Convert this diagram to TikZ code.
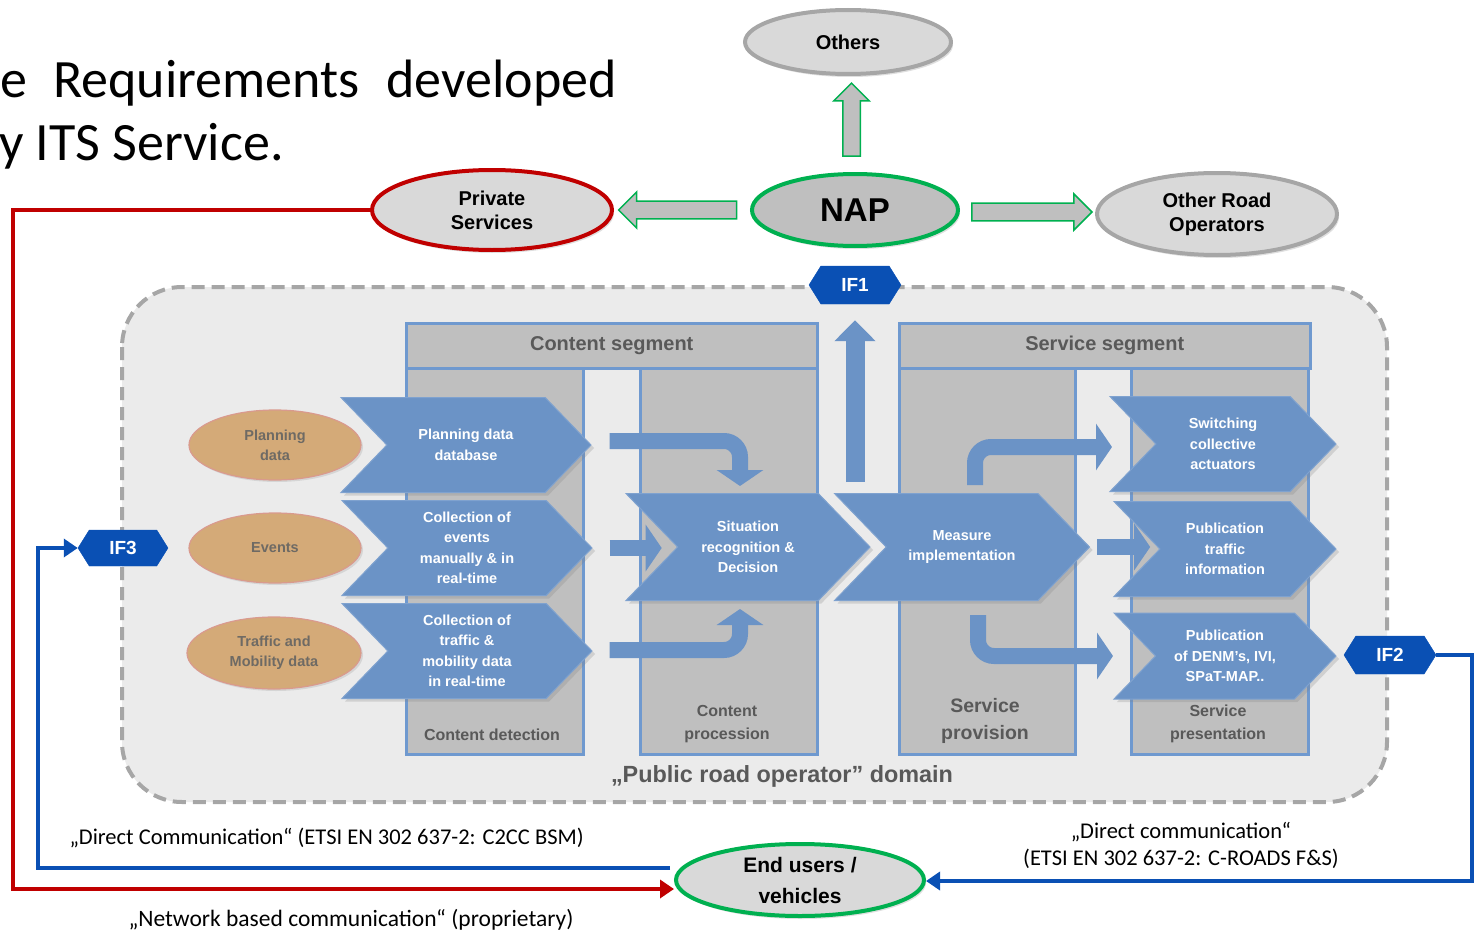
\documentclass[tikz,border=0pt]{standalone}
\usepackage{fontspec}
\setmainfont{Liberation Sans}
\newfontfamily\calibri{Carlito}
\usetikzlibrary{calc, positioning, arrows.meta, shapes.geometric, shapes.symbols, shapes.arrows, shadows}

\definecolor{napgreen}{HTML}{00B050}
\definecolor{prred}{HTML}{C00000}
\definecolor{ifblue}{HTML}{0A50B4}
\definecolor{chevblue}{HTML}{6B93C6}
\definecolor{chevedge}{HTML}{7FA2CF}
\definecolor{colborder}{HTML}{6F99CF}
\definecolor{colgray}{HTML}{BFBFBF}
\definecolor{domgray}{HTML}{EBEBEB}
\definecolor{dashgray}{HTML}{A6A6A6}
\definecolor{ovalgray}{HTML}{D9D9D9}
\definecolor{tanfill}{HTML}{D4AA78}
\definecolor{tanline}{HTML}{D99A8E}
\definecolor{tantext}{HTML}{6E6A64}
\definecolor{labelgray}{HTML}{595959}

\tikzset{
    oval/.style={ellipse, fill=ovalgray, draw=dashgray, line width=4pt, inner sep=0pt,
        align=center, font=\bfseries\fontsize{20}{24}\selectfont,
        drop shadow={opacity=.25, shadow xshift=2pt, shadow yshift=-3pt}},
    napoval/.style={oval, fill=colgray, draw=napgreen},
    tanoval/.style={ellipse, fill=tanfill, draw=tanline, line width=1.2pt, inner sep=0pt,
        minimum width=172pt, minimum height=70pt, align=center, text=tantext,
        font=\bfseries\fontsize{14.5}{20}\selectfont,
        drop shadow={opacity=.2, shadow xshift=2pt, shadow yshift=-2pt}},
    chev/.style={signal, signal to=east, signal from=west, signal pointer angle=92,
        fill=chevblue, draw=chevedge, line width=1pt, inner sep=0pt, align=center, text=white,
        font=\bfseries\fontsize{14.5}{20.5}\selectfont,
        drop shadow={opacity=.25, shadow xshift=3pt, shadow yshift=-3pt}},
    colbox/.style={rectangle, fill=colgray, draw=colborder, line width=2.5pt, inner sep=0pt},
    seghead/.style={colbox, text=labelgray, font=\bfseries\fontsize{20}{24}\selectfont},
    collabel/.style={text=labelgray, align=center, font=\bfseries\fontsize{16}{23}\selectfont},
    ifhex/.style={signal, signal to=east and west, signal pointer angle=116, fill=ifblue,
        draw=ifblue, text=white, inner sep=0pt, minimum width=92pt, minimum height=38pt,
        font=\bfseries\fontsize{19}{22}\selectfont},
    gate/.style={single arrow, fill=colgray, draw=napgreen, line width=1.5pt,
        inner xsep=0pt, inner ysep=8pt, text height=0pt, text depth=0pt,
        single arrow head extend=9pt},
    flow/.style={draw=chevblue, line width=16pt, rounded corners=16pt,
        -{Triangle[width=46pt,length=16pt]}},
    redline/.style={draw=prred, line width=4pt, -{Triangle[width=18pt,length=14pt]}},
    ifline/.style={draw=ifblue, line width=4pt, -{Triangle[width=18pt,length=14pt]}},
    note/.style={font=\calibri\fontsize{22.5}{27}\selectfont, align=center},
}

\begin{document}
\begin{tikzpicture}[x=1pt, y=-1pt]
\useasboundingbox (0,0) rectangle (1476,934);

% heading (cut off on the left)
\node[anchor=base west, inner sep=0pt, font=\calibri\fontsize{54}{60}\selectfont] (head1) at (0,97)
    {e\hspace{26pt}Requirements\hspace{27pt}developed};
\node[anchor=base west, inner sep=0pt, font=\calibri\fontsize{54}{60}\selectfont] (head2) at (-1,160)
    {y ITS Service.};

% NAP and its consumers
\node[oval, minimum width=206pt, minimum height=64pt] (others) at (848,42) {Others};
\node[napoval, minimum width=206pt, minimum height=72pt, font=\bfseries\fontsize{33}{36}\selectfont] (nap) at (855,210) {NAP};
\node[oval, draw=prred, minimum width=240pt, minimum height=80pt] (priv) at (492,210) {Private\\Services};
\node[oval, minimum width=240pt, minimum height=82pt] (oro) at (1217,214) {Other Road\\Operators};

\node[gate, rotate=90, minimum height=73pt, minimum width=34pt] (upgate) at ($(nap.north)!0.5!(others.south)$) {};
\node[gate, rotate=180, minimum height=118pt, minimum width=36pt] (leftgate) at ($(nap.west)!0.5!(priv.east)$) {};
\node[gate, minimum height=120pt, minimum width=36pt] (rightgate) at ($(nap.east)!0.5!(oro.west)$) {};

% road operator domain
\draw[fill=domgray, draw=dashgray, line width=4pt, dash pattern=on 13pt off 7pt, rounded corners=60pt]
    (122,287) rectangle (1387,802);
\node[text=labelgray, font=\bfseries\fontsize{23.4}{26}\selectfont] (domlabel) at (782,776)
    {„Public road operator” domain};

% segments and columns
\node[colbox, anchor=north west, minimum width=177pt, minimum height=386pt] (cdet) at (405,367) {};
\node[colbox, anchor=north west, minimum width=177pt, minimum height=386pt] (cproc) at (639,367) {};
\node[colbox, anchor=north west, minimum width=176pt, minimum height=386pt] (sprov) at (898,367) {};
\node[colbox, anchor=north west, minimum width=177pt, minimum height=386pt] (spres) at (1130,367) {};
\node[seghead, anchor=north west, minimum width=411pt, minimum height=45pt] (cseg) at (405,322) {Content segment};
\node[seghead, anchor=north west, minimum width=411pt, minimum height=45pt] (sseg) at (898,322) {Service segment};

\node[collabel] at (492,735) {Content detection};
\node[collabel] at (727,724) {Content\\procession};
\node[collabel, font=\bfseries\fontsize{19.5}{27}\selectfont] at (985,721) {Service\\provision};
\node[collabel] at (1218,724) {Service\\presentation};

% data sources
\node[tanoval] (plan) at (275,445) {Planning\\data};
\node[tanoval] (events) at (275,548) {Events};
\node[tanoval, minimum width=174pt, minimum height=72pt] (tmdata) at (274,653) {Traffic and\\Mobility data};

% process chevrons
\node[chev, minimum width=250pt, minimum height=95pt] (pdb) at (466,445) {Planning data\\database};
\node[chev, minimum width=250pt, minimum height=95pt] (coll) at (467,548) {Collection of\\events\\manually \& in\\real-time};
\node[chev, minimum width=250pt, minimum height=95pt] (ctraffic) at (467,651) {Collection of\\traffic \&\\mobility data\\in real-time};
\node[chev, minimum width=244pt, minimum height=107pt] (sit) at (748,547) {Situation\\recognition \&\\Decision};
\node[chev, minimum width=255pt, minimum height=107pt] (meas) at (962,547) {Measure\\implementation};
\node[chev, minimum width=226pt, minimum height=95pt] (sw) at (1223,444) {Switching\\collective\\actuators};
\node[chev, minimum width=222pt, minimum height=95pt] (pti) at (1225,549) {Publication\\traffic\\information};
\node[chev, minimum width=222pt, minimum height=86pt] (pden) at (1225,656) {Publication\\of DENM's, IVI,\\SPaT-MAP..};

% interfaces
\node[ifhex] (if1) at (855,285) {IF1};
\node[ifhex] (if2) at (1390,655) {IF2};
\node[ifhex, minimum width=90pt, minimum height=36pt] (if3) at (123,548) {IF3};

% flows inside the domain
\draw[flow] ($(pdb.east)+(18,-4)$) -| ($(sit.north)+(-8,-7)$);
\draw[flow] ($(coll.east)+(17,0)$) -- +(52,0);
\draw[flow] ($(ctraffic.east)+(17,-1)$) -| ($(sit.south)+(-8,8)$);
\coordinate (upstart) at (855,482);
\draw[flow, line width=19pt, -{Triangle[width=40pt,length=21pt]}] (upstart) -- ($(if1.south)+(0,16)$);
\draw[flow] ($(meas.north)+(13,-8)$) |- +(137,-38);
\draw[flow] ($(meas.east)+(7,0)$) -- +(53,0);
\draw[flow] ($(meas.south)+(16,14)$) |- +(135,41);

% end users and their links
\node[oval, draw=napgreen, minimum width=248pt, minimum height=72pt, font=\bfseries\fontsize{21}{31}\selectfont] (endusers) at (800,880) {End users /\\vehicles};

\coordinate (redcorner) at (13,889);
\coordinate (bluecorner) at (38,548);
\coordinate (rightcorner) at (1472,881);
\draw[redline] (priv.west) -| (redcorner) -- (endusers.west |- redcorner);
\draw[ifline] ($(endusers.west)+(-4,-12)$) -| (bluecorner) -- (if3.west);
\draw[ifline] (if2.east) -| (rightcorner) -- (endusers.east |- rightcorner);

\node[note, anchor=west] (dc1) at (66,838) {„Direct Communication“ (ETSI EN 302 637-2: C2CC BSM)};
\node[note, font=\calibri\fontsize{23.5}{27}\selectfont] (nbc) at (351,920) {„Network based communication“ (proprietary)};
\node[note] (dc2) at (1181,845) {„Direct communication“\\(ETSI EN 302 637-2: C-ROADS F\&S)};

\end{tikzpicture}
\end{document}
